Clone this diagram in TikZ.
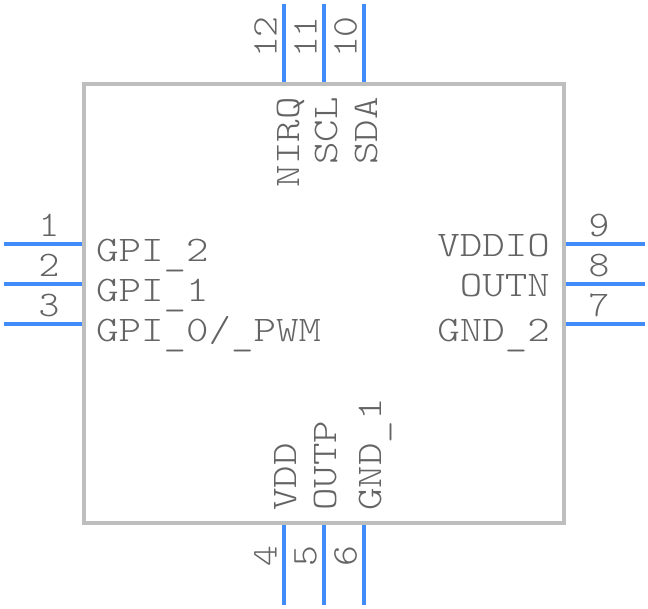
\documentclass[tikz,border=0pt]{standalone}
\usepackage{fontspec}
\newfontfamily\labfont[FakeStretch=1.19]{Latin Modern Mono Light}
\newfontfamily\numfont[FakeStretch=1.1]{Latin Modern Mono Light}
\newcommand{\lowbar}{\raisebox{-4pt}{\_}}
\definecolor{pinblue}{RGB}{66,140,250}
\definecolor{bodygrey}{RGB}{190,190,190}
\definecolor{txtgrey}{RGB}{100,100,100}
\tikzset{x=1pt,y=-1pt,
 pinline/.style={draw=pinblue,line width=4pt},
 lab/.style={inner sep=0pt,text=txtgrey,font=\labfont\fontsize{36}{36}\selectfont},
 num/.style={inner sep=0pt,text=txtgrey,font=\numfont\fontsize{36}{36}\selectfont}}
\begin{document}
\begin{tikzpicture}
\useasboundingbox (0,0) rectangle (648,608);
\fill[white] (0,0) rectangle (648,608);
\draw[draw=bodygrey,line width=4pt] (84,84) rectangle (564,523);
\foreach \n/\y in {a/243.7,b/283.7,c/323.7}{
 \coordinate (l\n1) at (3.5,\y); \coordinate (l\n2) at (82,\y); \draw[pinline] (l\n1)--(l\n2);
 \coordinate (r\n1) at (566,\y); \coordinate (r\n2) at (645,\y); \draw[pinline] (r\n1)--(r\n2);}
\foreach \n/\x in {a/283.7,b/323.7,c/363.7}{
 \coordinate (t\n1) at (\x,3.5); \coordinate (t\n2) at (\x,82); \draw[pinline] (t\n1)--(t\n2);
 \coordinate (b\n1) at (\x,525); \coordinate (b\n2) at (\x,604.5); \draw[pinline] (b\n1)--(b\n2);}
\node[num] (n1) at (49,225) {1};
\node[num] (n2) at (49,265) {2};
\node[num] (n3) at (49,305) {3};
\node[num] (n9) at (599,225) {9};
\node[num] (n8) at (599,265) {8};
\node[num] (n7) at (599,305) {7};
\node[num,rotate=90] (n12) at (265.5,37) {12};
\node[num,rotate=90] (n11) at (305.5,37) {11};
\node[num,rotate=90] (n10) at (345.5,37) {10};
\node[num,rotate=90] (n4) at (265.5,556) {4};
\node[num,rotate=90] (n5) at (305.5,556) {5};
\node[num,rotate=90] (n6) at (345.5,556) {6};
\node[lab,anchor=base west] (g2) at (96,261) {GPI\lowbar2};
\node[lab,anchor=base west] (g1) at (96,301) {GPI\lowbar1};
\node[lab,anchor=base west] (g0) at (96,341) {GPI\lowbar0/\lowbar PWM};
\node[lab,anchor=base east] (vio) at (550,256) {VDDIO};
\node[lab,anchor=base east] (on) at (550,296) {OUTN};
\node[lab,anchor=base east] (g22) at (550,341) {GND\lowbar2};
\node[lab,rotate=90,anchor=base east] (nirq) at (299,97) {NIRQ};
\node[lab,rotate=90,anchor=base east] (scl) at (337,97) {SCL};
\node[lab,rotate=90,anchor=base east] (sda) at (377,97) {SDA};
\node[lab,rotate=90,anchor=base west] (vdd) at (296,511) {VDD};
\node[lab,rotate=90,anchor=base west] (outp) at (336,511) {OUTP};
\node[lab,rotate=90,anchor=base west] (gnd1) at (381,511) {GND\lowbar1};
\end{tikzpicture}
\end{document}
